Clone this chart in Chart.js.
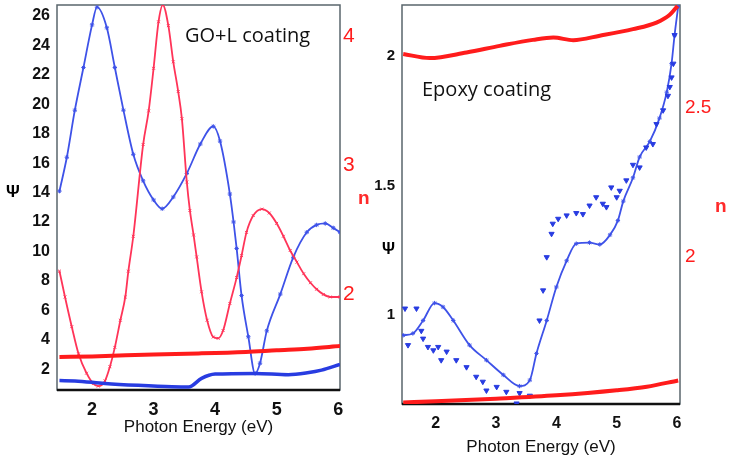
<!DOCTYPE html>
<html>
<head>
<meta charset="utf-8">
<script src="https://cdn.jsdelivr.net/npm/chart.js@4.4.1/dist/chart.umd.min.js"></script>
<style>
    html, body { margin: 0; padding: 0; background: #ffffff; }
    #wrap { position: relative; width: 731px; height: 458px; overflow: hidden; font-family: 'Liberation Sans', Arial, sans-serif; }
    canvas { position: absolute; top: 0; }
    .lbl { position: absolute; white-space: nowrap; line-height: 1; }
    .note { font-family: 'Open Sans', 'Noto Sans', sans-serif; font-size: 20px; color: #111; }
</style>
</head>
<body>
<div id="wrap">
    <canvas id="left-chart" width="370" height="458" style="left:0"></canvas>
    <canvas id="right-chart" width="361" height="458" style="left:370px"></canvas>
    <div class="lbl" style="left:6px; top:183px; font-size:17px; font-weight:bold;">Ψ</div>
    <div class="lbl" style="left:358px; top:188px; font-size:19px; font-weight:bold; color:#ff2a2a;">n</div>
    <div class="lbl note" style="left:185px; top:25px;">GO+L coating</div>
    <div class="lbl" style="left:382px; top:241px; font-size:16px; font-weight:bold;">Ψ</div>
    <div class="lbl" style="left:715px; top:196px; font-size:19px; font-weight:bold; color:#ff2a2a;">n</div>
    <div class="lbl note" style="left:422px; top:79px;">Epoxy coating</div>
</div>
<script>
// GO+L coating: Psi (blue oscillation)
const goPsiEnergy = [1.47, 1.59, 1.72, 1.86, 2.0, 2.08, 2.24, 2.37, 2.51, 2.67, 2.83, 3.0, 3.14, 3.32, 3.54, 3.76, 3.97, 4.08, 4.24, 4.30, 4.35, 4.43, 4.54, 4.65, 4.73, 4.84, 5.06, 5.27, 5.49, 5.65, 5.79, 5.92, 6.03];
const goPsi = [14.1, 16.4, 19.6, 22.5, 25.4, 26.6, 25.2, 22.5, 19.6, 16.6, 14.8, 13.5, 12.9, 13.7, 15.3, 17.3, 18.5, 17.5, 13.9, 12.0, 10.2, 7.0, 4.2, 1.7, 2.4, 4.6, 7.1, 9.6, 11.3, 11.8, 11.9, 11.6, 11.3];

// GO+L coating: n (red oscillation)
const goNEnergy = [1.47, 1.56, 1.67, 1.78, 1.91, 2.02, 2.10, 2.21, 2.29, 2.37, 2.46, 2.54, 2.59, 2.67, 2.83, 2.92, 3.0, 3.08, 3.15, 3.24, 3.32, 3.40, 3.46, 3.54, 3.59, 3.65, 3.70, 3.78, 3.87, 3.97, 4.05, 4.13, 4.24, 4.35, 4.43, 4.51, 4.62, 4.76, 4.88, 5.0, 5.11, 5.22, 5.33, 5.44, 5.55, 5.65, 5.76, 5.87, 6.03];
const goN = [2.18, 1.98, 1.75, 1.54, 1.39, 1.31, 1.29, 1.33, 1.44, 1.59, 1.80, 1.98, 2.18, 2.45, 3.16, 3.42, 3.75, 4.11, 4.24, 4.08, 3.80, 3.57, 3.36, 2.87, 2.65, 2.46, 2.29, 2.02, 1.80, 1.67, 1.66, 1.72, 1.93, 2.13, 2.30, 2.48, 2.61, 2.66, 2.63, 2.55, 2.45, 2.34, 2.25, 2.16, 2.09, 2.04, 2.00, 1.98, 1.98];

// GO+L coating: flat curves
const goFlatPsiEnergy = [1.47, 1.72, 2.21, 2.75, 3.3, 3.57, 3.78, 4.0, 4.65, 5.19, 5.5, 5.73, 6.03];
const goFlatPsi = [1.22, 1.2, 1.03, 0.9, 0.8, 0.78, 1.37, 1.66, 1.71, 1.62, 1.75, 1.93, 2.32];
const goFlatNEnergy = [1.47, 2.0, 3.0, 3.73, 4.5, 5.0, 5.5, 6.03];
const goFlatN = [1.516, 1.52, 1.535, 1.543, 1.555, 1.568, 1.58, 1.60];

// Epoxy coating: n (red, top and bottom)
const epTopNEnergy = [1.46, 1.90, 2.51, 3.06, 3.61, 3.95, 4.28, 4.72, 5.27, 5.66, 5.88, 6.01];
const epTopN = [2.679, 2.665, 2.684, 2.706, 2.726, 2.734, 2.725, 2.74, 2.762, 2.784, 2.81, 2.84];
const epLowNEnergy = [1.46, 2.0, 3.0, 4.0, 5.0, 5.5, 6.02];
const epLowN = [1.51, 1.514, 1.523, 1.534, 1.551, 1.563, 1.584];

// Epoxy coating: Psi line and Psi triangles
const epPsiEnergy = [1.46, 1.62, 1.79, 1.98, 2.12, 2.29, 2.56, 2.84, 3.12, 3.39, 3.56, 3.67, 3.84, 4.0, 4.17, 4.33, 4.55, 4.72, 4.89, 5.02, 5.11, 5.27, 5.38, 5.55, 5.71, 5.83, 5.91, 5.96, 6.02];
const epPsi = [0.923, 0.93, 0.98, 1.047, 1.032, 0.98, 0.885, 0.827, 0.77, 0.727, 0.75, 0.853, 0.98, 1.109, 1.21, 1.276, 1.28, 1.273, 1.31, 1.365, 1.44, 1.53, 1.61, 1.67, 1.76, 1.86, 1.97, 2.08, 2.19];
const epTriEnergy = [1.49, 1.54, 1.68, 1.76, 1.79, 1.87, 1.96, 2.04, 2.09, 2.18, 2.34, 2.51, 2.67, 2.78, 2.84, 3.01, 3.17, 3.34, 3.39, 3.56, 3.72, 3.78, 3.84, 3.92, 3.94, 4.03, 4.17, 4.33, 4.44, 4.55, 4.66, 4.77, 4.83, 4.91, 5.0, 5.05, 5.16, 5.27, 5.38, 5.49, 5.60, 5.66, 5.77, 5.85, 5.88, 5.91, 5.94, 5.96];
const epTriPsi = [1.026, 0.885, 1.026, 0.94, 0.91, 0.878, 0.865, 0.878, 0.827, 0.86, 0.827, 0.80, 0.763, 0.744, 0.71, 0.724, 0.705, 0.66, 0.70, 0.69, 0.98, 1.096, 1.224, 1.314, 1.353, 1.372, 1.385, 1.394, 1.39, 1.423, 1.455, 1.43, 1.417, 1.493, 1.455, 1.48, 1.52, 1.58, 1.57, 1.647, 1.66, 1.737, 1.79, 1.846, 1.88, 1.917, 1.97, 2.08];

// Tick labels
const energyTicks = [2, 3, 4, 5, 6];
const goPsiTicks = [2, 4, 6, 8, 10, 12, 14, 16, 18, 20, 22, 24, 26];
const goNTicks = [2, 3, 4];
const epPsiTicks = [1, 1.5, 2];
const epNTicks = [2, 2.5];

const BLUE = 'rgb(62, 82, 232)';
const BLUE_DARK = 'rgb(40, 60, 225)';
const PINK = 'rgb(255, 52, 88)';
const RED = 'rgb(255, 28, 28)';

const toPoints = (xs, ys) => xs.map((x, i) => ({ x, y: ys[i] }));

// box round the plot, bottom edge darker like the original
const framePlugin = {
    id: 'frame',
    beforeDatasetsDraw(chart) {
        const { ctx, chartArea: a } = chart;
        ctx.save();
        ctx.strokeStyle = '#5a666c';
        ctx.lineWidth = 1.5;
        ctx.strokeRect(a.left, a.top, a.right - a.left, a.bottom - a.top);
        ctx.strokeStyle = '#111111';
        ctx.lineWidth = 2.5;
        ctx.beginPath();
        ctx.moveTo(a.left, a.bottom);
        ctx.lineTo(a.right, a.bottom);
        ctx.stroke();
        ctx.restore();
    },
};

const fixTicks = (values) => (scale) => {
    scale.ticks = values.map((v) => ({ value: v }));
};

// fixed axis size, and no extra room for the edge labels
const fixSize = (prop, size) => (s) => {
    s[prop] = size;
    s.paddingTop = 0;
    s.paddingBottom = 0;
    s.paddingLeft = 0;
    s.paddingRight = 0;
};

const lineSet = (data, axis, color, width, pointStyle, radius) => ({
    data,
    yAxisID: axis,
    borderColor: color,
    backgroundColor: color,
    borderWidth: width,
    pointStyle,
    pointRadius: radius,
    pointBorderWidth: 1,
    cubicInterpolationMode: 'monotone',
    showLine: true,
});

const noGrid = { display: false, drawTicks: false };

const makeChart = (canvasId, datasets, cfg) => {
    const ctx = document.getElementById(canvasId).getContext('2d');
    return new Chart(ctx, {
        type: 'scatter',
        data: { datasets },
        options: {
            responsive: false,
            animation: false,
            layout: { padding: { top: 4, bottom: cfg.bottomPad, left: 0, right: 0 } },
            plugins: { legend: { display: false }, tooltip: { enabled: false } },
            scales: {
                x: {
                    type: 'linear',
                    min: cfg.xMin,
                    max: cfg.xMax,
                    afterBuildTicks: fixTicks(energyTicks),
                    afterFit: fixSize('height', cfg.xHeight),
                    grid: noGrid,
                    border: { display: false },
                    ticks: {
                        color: '#111',
                        padding: cfg.xPad,
                        callback: (v) => v,
                        font: { family: 'Liberation Sans', size: cfg.xFont, weight: 'bold' },
                    },
                    title: {
                        display: true,
                        text: 'Photon Energy (eV)',
                        color: '#111',
                        padding: 0,
                        font: { family: 'Liberation Sans', size: cfg.titleFont },
                    },
                },
                psi: {
                    type: 'linear',
                    position: 'left',
                    min: cfg.psiMin,
                    max: cfg.psiMax,
                    afterBuildTicks: fixTicks(cfg.psiTicks),
                    afterFit: fixSize('width', cfg.psiWidth),
                    grid: noGrid,
                    border: { display: false },
                    ticks: {
                        color: '#111',
                        padding: 7,
                        callback: (v) => v,
                        font: { family: 'Liberation Sans', size: cfg.psiFont, weight: 'bold' },
                    },
                },
                n: {
                    type: 'linear',
                    position: 'right',
                    min: cfg.nMin,
                    max: cfg.nMax,
                    afterBuildTicks: fixTicks(cfg.nTicks),
                    afterFit: fixSize('width', cfg.nWidth),
                    grid: noGrid,
                    border: { display: false },
                    ticks: {
                        color: RED,
                        padding: cfg.nPad,
                        callback: (v) => v,
                        font: { family: 'Liberation Sans', size: cfg.nFont },
                    },
                },
            },
        },
        plugins: [framePlugin],
    });
};

document.addEventListener('DOMContentLoaded', () => {
    makeChart('left-chart', [
        lineSet(toPoints(goFlatNEnergy, goFlatN), 'n', RED, 4, 'crossRot', 0),
        lineSet(toPoints(goFlatPsiEnergy, goFlatPsi), 'psi', BLUE_DARK, 3.5, 'crossRot', 0),
        lineSet(toPoints(goNEnergy, goN), 'n', PINK, 1.8, 'crossRot', 2),
        lineSet(toPoints(goPsiEnergy, goPsi), 'psi', BLUE, 1.8, 'star', 2.2),
    ], {
        xMin: 1.43, xMax: 6.03, xHeight: 48, bottomPad: 20, xPad: 9, xFont: 18, titleFont: 17,
        psiMin: 0.58, psiMax: 26.75, psiTicks: goPsiTicks, psiWidth: 57, psiFont: 16,
        nMin: 1.26, nMax: 4.24, nTicks: goNTicks, nWidth: 30, nPad: 3, nFont: 21,
    });

    const triangles = {
        data: toPoints(epTriEnergy, epTriPsi),
        yAxisID: 'psi',
        showLine: false,
        pointStyle: 'triangle',
        rotation: 180,
        pointRadius: 3,
        borderColor: BLUE_DARK,
        backgroundColor: BLUE_DARK,
    };

    makeChart('right-chart', [
        lineSet(toPoints(epLowNEnergy, epLowN), 'n', RED, 4, 'crossRot', 0),
        lineSet(toPoints(epTopNEnergy, epTopN), 'n', RED, 4, 'crossRot', 0),
        triangles,
        lineSet(toPoints(epPsiEnergy, epPsi), 'psi', BLUE, 1.8, 'star', 2.2),
    ], {
        xMin: 1.44, xMax: 6.05, xHeight: 54, bottomPad: 0, xPad: 10, xFont: 16, titleFont: 17,
        psiMin: 0.658, psiMax: 2.196, psiTicks: epPsiTicks, psiWidth: 32, psiFont: 15,
        nMin: 1.505, nMax: 2.843, nTicks: epNTicks, nWidth: 51, nPad: 5, nFont: 19,
    });
});
</script>
</body>
</html>
